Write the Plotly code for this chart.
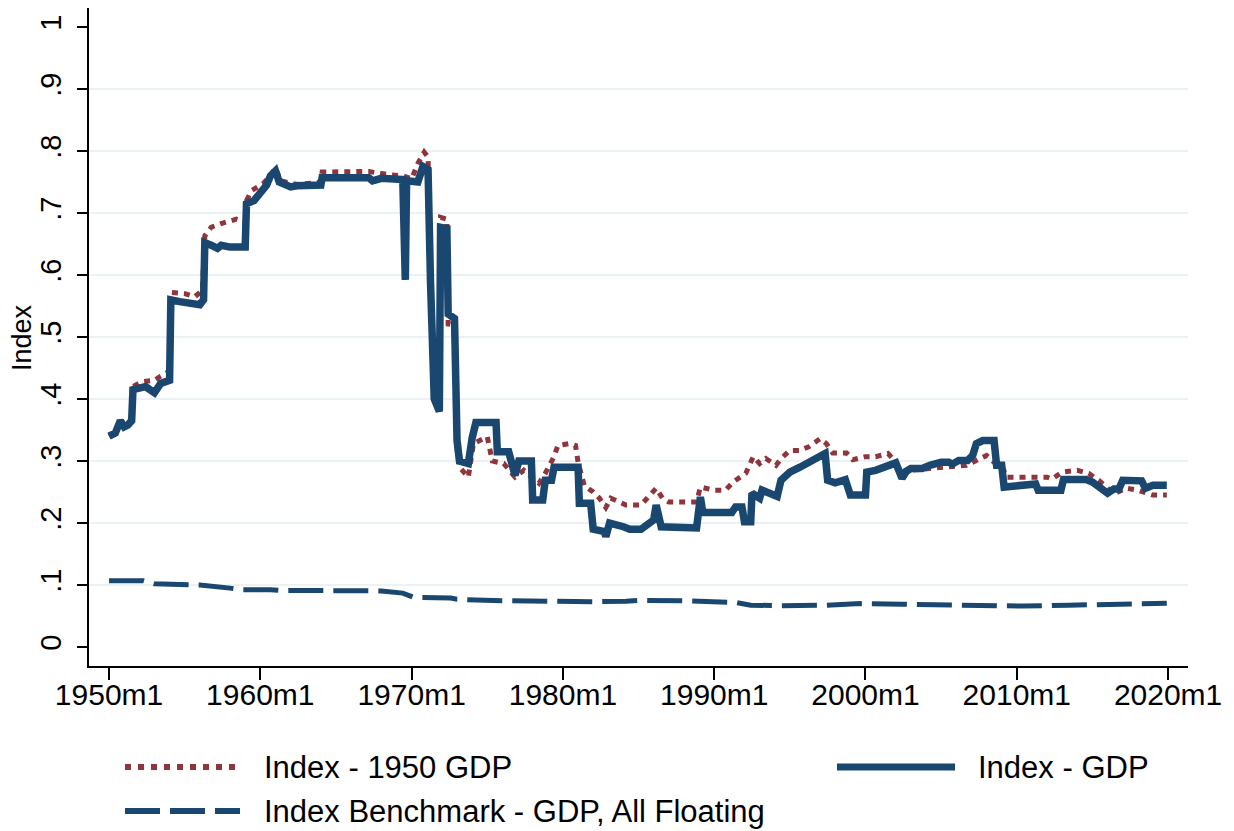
import plotly.graph_objects as go

# ---- Data ----
gdp_dates = ["1950-01","1950-06","1950-10","1951-01","1951-04","1951-07","1951-08","1952-06","1953-01","1953-06",
             "1954-01","1954-02","1954-09","1955-06","1956-01","1956-04","1956-05","1956-10","1957-03","1957-06",
             "1958-01","1959-01","1959-02","1959-08","1960-01","1960-06","1960-09","1961-01","1961-04","1962-01",
             "1962-06","1963-06","1964-01","1964-02","1966-06","1967-03","1967-06","1968-01","1969-06","1969-08",
             "1969-09","1970-06","1970-10","1971-02","1971-04","1971-07","1971-11","1971-12","1972-05","1972-06",
             "1972-11","1973-01","1973-03","1973-10","1974-01","1974-04","1975-08","1975-09","1976-06","1976-11",
             "1977-02","1977-12","1978-01","1978-09","1978-11","1979-04","1979-06","1981-01","1981-02","1981-11",
             "1982-01","1982-10","1982-11","1983-02","1984-01","1984-06","1985-03","1985-10","1986-01","1986-03",
             "1986-07","1988-11","1989-02","1989-04","1991-03","1991-06","1991-11","1992-01","1992-06","1992-07",
             "1993-01","1993-03","1994-03","1994-06","1995-01","1995-09","1996-04","1997-05","1997-07","1998-01",
             "1998-09","1999-01","2000-01","2000-02","2000-09","2001-06","2002-01","2002-06","2002-09","2003-01",
             "2003-10","2004-04","2005-01","2005-07","2005-10","2006-03","2006-10","2007-02","2007-05","2007-10",
             "2008-07","2008-09","2009-01","2009-03","2010-03","2010-09","2011-04","2011-06","2012-12","2013-02",
             "2014-08","2015-01","2016-01","2016-06","2016-10","2017-01","2018-04","2018-07","2019-01","2019-12"]
gdp_values = [0.340,0.345,0.365,0.355,0.358,0.365,0.415,0.420,0.410,0.425,
              0.430,0.560,0.557,0.555,0.552,0.560,0.652,0.648,0.643,0.648,
              0.645,0.645,0.715,0.720,0.735,0.745,0.760,0.768,0.750,0.742,
              0.744,0.745,0.745,0.757,0.757,0.757,0.752,0.756,0.754,0.592,
              0.752,0.750,0.775,0.770,0.590,0.400,0.380,0.677,0.675,0.537,
              0.530,0.333,0.300,0.296,0.337,0.362,0.362,0.315,0.315,0.277,
              0.300,0.300,0.237,0.237,0.269,0.269,0.290,0.290,0.232,0.232,
              0.190,0.186,0.178,0.200,0.194,0.190,0.190,0.200,0.205,0.229,
              0.194,0.192,0.242,0.217,0.217,0.226,0.226,0.202,0.202,0.248,
              0.240,0.253,0.243,0.269,0.282,0.290,0.298,0.312,0.269,0.265,
              0.270,0.245,0.245,0.282,0.285,0.290,0.297,0.272,0.283,0.288,
              0.288,0.293,0.298,0.298,0.295,0.301,0.301,0.309,0.328,0.333,
              0.333,0.293,0.293,0.258,0.260,0.263,0.263,0.253,0.253,0.270,
              0.270,0.266,0.248,0.255,0.255,0.269,0.268,0.256,0.261,0.261]

gdp1950_dates = ["1950-01","1950-06","1950-10","1951-01","1951-07","1951-08","1952-03","1953-01","1953-06","1954-01",
                 "1954-02","1955-01","1955-09","1956-03","1956-05","1956-10","1957-06","1958-06","1959-01","1959-02",
                 "1959-06","1960-03","1960-09","1961-01","1961-05","1962-06","1963-06","1964-01","1964-02","1967-03",
                 "1968-06","1969-06","1970-01","1970-06","1970-11","1971-02","1971-04","1971-07","1971-11","1971-12",
                 "1972-05","1972-06","1972-11","1973-01","1973-03","1973-10","1974-02","1975-01","1975-05","1976-02",
                 "1976-11","1977-06","1978-06","1978-11","1979-06","1979-09","1980-06","1980-11","1981-01","1981-06",
                 "1982-01","1982-06","1982-11","1983-03","1984-03","1985-03","1985-10","1986-03","1986-08","1987-01",
                 "1988-11","1989-02","1990-01","1990-10","1991-04","1991-10","1992-02","1992-08","1993-01","1993-06",
                 "1994-02","1994-06","1995-01","1995-09","1996-04","1997-01","1997-06","1997-11","1998-10","1999-03",
                 "2000-01","2000-09","2001-07","2002-01","2002-06","2002-11","2003-10","2004-10","2005-08","2006-09",
                 "2007-05","2008-01","2008-07","2009-01","2009-05","2012-01","2012-05","2013-01","2014-01","2014-10",
                 "2015-06","2016-06","2017-04","2018-01","2019-01","2019-12"]
gdp1950_values = [0.340,0.345,0.365,0.355,0.365,0.420,0.428,0.430,0.437,0.445,
                  0.572,0.570,0.565,0.575,0.663,0.677,0.683,0.690,0.685,0.720,
                  0.736,0.747,0.760,0.773,0.752,0.746,0.748,0.750,0.766,0.767,
                  0.762,0.760,0.755,0.780,0.798,0.790,0.618,0.420,0.400,0.693,
                  0.690,0.521,0.520,0.320,0.290,0.274,0.328,0.339,0.300,0.296,
                  0.274,0.285,0.264,0.280,0.307,0.325,0.328,0.325,0.298,0.260,
                  0.250,0.240,0.225,0.240,0.229,0.229,0.245,0.256,0.240,0.234,
                  0.234,0.258,0.253,0.253,0.266,0.274,0.280,0.307,0.296,0.304,
                  0.293,0.304,0.317,0.317,0.323,0.336,0.328,0.313,0.313,0.302,
                  0.307,0.307,0.312,0.298,0.269,0.285,0.287,0.290,0.290,0.293,
                  0.301,0.309,0.298,0.293,0.274,0.274,0.271,0.282,0.285,0.280,
                  0.269,0.247,0.256,0.253,0.245,0.245]

bench_dates = ["1950-01","1952-04","1953-01","1955-06","1956-01","1958-01","1958-09","1960-09","1961-06","1964-06",
               "1965-09","1968-01","1969-06","1970-03","1972-08","1973-01","1975-06","1976-06","1981-01","1982-01",
               "1984-03","1985-01","1988-01","1990-06","1991-06","1992-06","1994-06","1997-06","1999-09","2002-06",
               "2005-01","2008-01","2010-06","2013-06","2016-06","2019-12"]
bench_values = [0.107,0.107,0.102,0.101,0.100,0.095,0.0925,0.0925,0.091,0.091,
                0.0905,0.0905,0.087,0.080,0.079,0.077,0.075,0.0745,0.074,0.073,
                0.074,0.0752,0.0745,0.074,0.072,0.0675,0.0667,0.0675,0.070,0.069,
                0.068,0.0665,0.066,0.0675,0.069,0.0705]

x_tickvals = ["1950-01-01","1960-01-01","1970-01-01","1980-01-01","1990-01-01",
              "2000-01-01","2010-01-01","2020-01-01"]
x_ticktext = ["1950m1","1960m1","1970m1","1980m1","1990m1","2000m1","2010m1","2020m1"]
y_tickvals = [0,0.1,0.2,0.3,0.4,0.5,0.6,0.7,0.8,0.9,1]
y_ticktext = ["0",".1",".2",".3",".4",".5",".6",".7",".8",".9","1"]
grid_vals = [0.1,0.2,0.3,0.4,0.5,0.6,0.7,0.8,0.9]

names = ["Index - 1950 GDP", "Index - GDP", "Index Benchmark - GDP, All Floating"]

NAVY = "#1A476F"
MAROON = "#90353B"
FONT = "Arial, Liberation Sans, sans-serif"

fig = go.Figure()
fig.add_trace(go.Scatter(x=gdp1950_dates, y=gdp1950_values, mode="lines", name=names[0],
                         line=dict(color=MAROON, width=5, dash="6px,6px")))
fig.add_trace(go.Scatter(x=gdp_dates, y=gdp_values, mode="lines", name=names[1],
                         line=dict(color=NAVY, width=7.5)))
fig.add_trace(go.Scatter(x=bench_dates, y=bench_values, mode="lines", name=names[2],
                         line=dict(color=NAVY, width=5, dash="35px,10px")))

# Plot-area geometry in screen pixels (page body has an 8px default margin)
PL, PW, PB, PH = 89, 1099, 666, 658

def px_x(p):
    return (p - PL) / PW

def px_y(p):
    return -(p - PB) / PH

legend_items = [
    (125, 240, 767, 262, names[0], MAROON, 6, "6px,7px"),
    (837, 955, 767, 976, names[1], NAVY, 7, "solid"),
    (125, 240, 811, 262, names[2], NAVY, 6, "35px,10px"),
]
for x0, x1, yy, tx, label, col, w, d in legend_items:
    fig.add_shape(type="line", xref="paper", yref="paper",
                  x0=px_x(x0), x1=px_x(x1), y0=px_y(yy), y1=px_y(yy),
                  line=dict(color=col, width=w, dash=d))
    fig.add_annotation(xref="paper", yref="paper", x=px_x(tx), y=px_y(yy),
                       xanchor="left", yanchor="middle", showarrow=False,
                       text=label, font=dict(family=FONT, size=31, color="black"))

# y-axis title
fig.add_annotation(xref="paper", yref="paper", x=px_x(22), y=px_y(338),
                   xanchor="center", yanchor="middle", showarrow=False, textangle=-90,
                   text="Index", font=dict(family=FONT, size=27, color="black"))

fig.update_layout(
    width=1226, height=823,
    margin=dict(l=81, r=46, t=0, b=165, autoexpand=False),
    paper_bgcolor="white", plot_bgcolor="white",
    showlegend=False,
    font=dict(family=FONT, color="black"),
)
fig.update_xaxes(
    type="date", automargin=False,
    range=["1948-09-04", "2021-04-26"],
    tickvals=x_tickvals, ticktext=x_ticktext,
    tickfont=dict(size=30, family=FONT, color="black"),
    ticks="outside", ticklen=12, tickwidth=1.5, tickcolor="black",
    ticklabelstandoff=-11,
    showline=True, linecolor="black", linewidth=1.5,
    showgrid=False, zeroline=False,
)
fig.update_yaxes(
    automargin=False,
    range=[-0.0306, 1.0306],
    tickvals=y_tickvals, ticktext=y_ticktext, tickangle=-90,
    tickfont=dict(size=29, family=FONT, color="black"),
    ticks="outside", ticklen=10, tickwidth=1.5, tickcolor="black",
    ticklabelstandoff=5,
    showline=True, linecolor="black", linewidth=1.5,
    showgrid=False, zeroline=False,
    minor=dict(tickvals=grid_vals, showgrid=True, gridcolor="#EAF2F3", gridwidth=2, ticks=""),
)

fig.write_html("out.html")
